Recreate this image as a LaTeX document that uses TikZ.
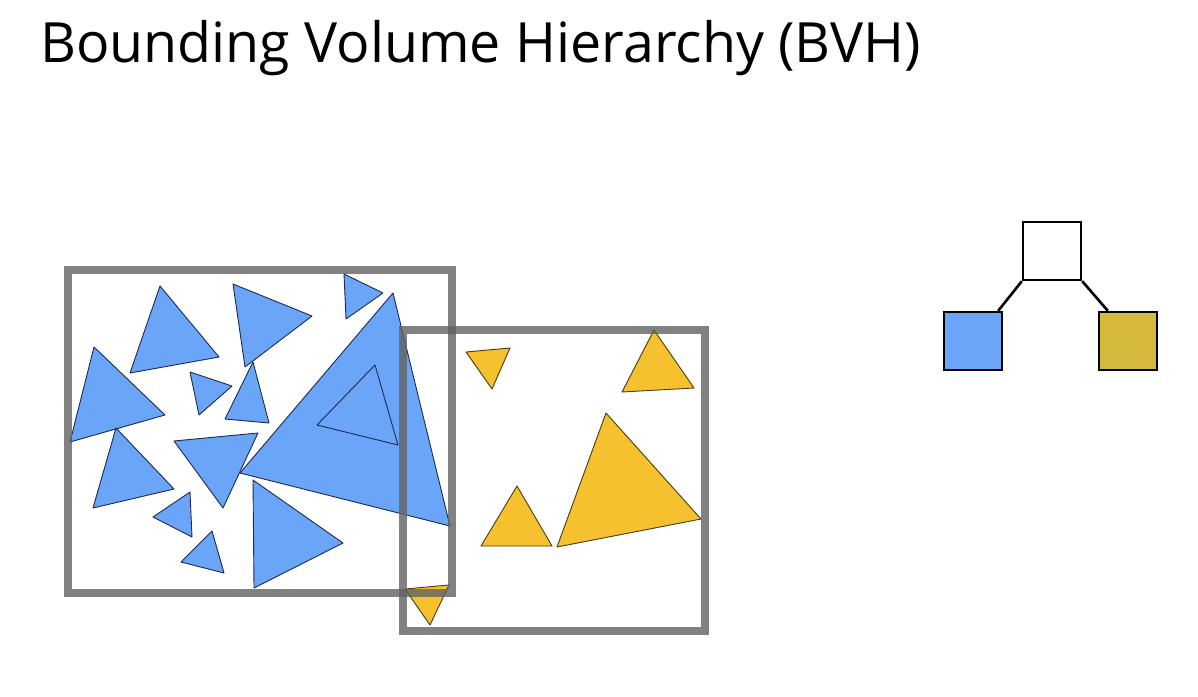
\documentclass[tikz,border=0pt]{standalone}
\usepackage{fontspec}
\setmainfont{Open Sans}
\usepackage{tikz}
\usetikzlibrary{positioning}
\definecolor{triblue}{HTML}{6BA5F8}
\definecolor{triyellow}{HTML}{F5C12E}
\definecolor{nodeyellow}{HTML}{D5B93A}
\definecolor{edgeblue}{HTML}{1B2B4F}
\definecolor{edgeyellow}{HTML}{4A3A10}
\tikzset{
  bluetri/.style={fill=triblue, draw=edgeblue, line width=0.9pt, line join=round},
  yellowtri/.style={fill=triyellow, draw=edgeyellow, line width=0.9pt, line join=round},
  bvbox/.style={draw=black!62, draw opacity=0.8, line width=8pt},
  treenode/.style={draw=black, line width=2.4pt, minimum size=58pt, inner sep=0pt},
}

\begin{document}
\begin{tikzpicture}[x=1pt, y=-1pt]
    \useasboundingbox (0,0) rectangle (1198,696);
    % title
    \node[anchor=base west, font=\fontsize{55.5}{60}\selectfont, inner sep=0pt] (title) at (40,62) {Bounding Volume Hierarchy (BVH)};
    \begin{scope}
% blue primitives
\draw[bluetri] (160,286) -- (130,373) -- (219,357) -- cycle;
\draw[bluetri] (233,284) -- (312,316) -- (245,367) -- cycle;
\draw[bluetri] (344,274) -- (383,293) -- (346,319) -- cycle;
\draw[bluetri] (393,293) -- (240,473) -- (450,526) -- cycle;
\draw[bluetri] (375,365) -- (317,425) -- (398,445) -- cycle;
\draw[bluetri] (94,347) -- (70,442) -- (165,415) -- cycle;
\draw[bluetri] (190,372) -- (199,415) -- (232,386) -- cycle;
\draw[bluetri] (253,362) -- (225,419) -- (269,423) -- cycle;
\draw[bluetri] (116,428) -- (93,508) -- (174,489) -- cycle;
\draw[bluetri] (174,441) -- (258,433) -- (223,508) -- cycle;
\draw[bluetri] (190,492) -- (153,517) -- (192,537) -- cycle;
\draw[bluetri] (212,531) -- (181,562) -- (224,573) -- cycle;
\draw[bluetri] (253,480) -- (254,588) -- (343,543) -- cycle;
% yellow primitives
\draw[yellowtri] (466,352) -- (510,348) -- (492,389) -- cycle;
\draw[yellowtri] (654,330) -- (622,392) -- (694,388) -- cycle;
\draw[yellowtri] (517,486) -- (481,546) -- (552,546) -- cycle;
\draw[yellowtri] (606,413) -- (557,547) -- (701,519) -- cycle;
\draw[yellowtri] (405,589) -- (449,585) -- (430,625) -- cycle;
% bounding volumes
\draw[bvbox] (68,270) rectangle (452,593);
\draw[bvbox] (403,330) rectangle (705,631);
    \end{scope}
    % hierarchy
    \node[treenode, fill=white] (root) at (1052,251) {};
    \node[treenode, fill=triblue] (lbox) at (973,341) {};
    \node[treenode, fill=nodeyellow] (rbox) at (1128,341) {};
    \draw[line width=2.6pt] (root.south west) -- ([xshift=-5pt]lbox.north east);
    \draw[line width=2.6pt] (root.south east) -- ([xshift=10pt]rbox.north west);
\end{tikzpicture}
\end{document}
